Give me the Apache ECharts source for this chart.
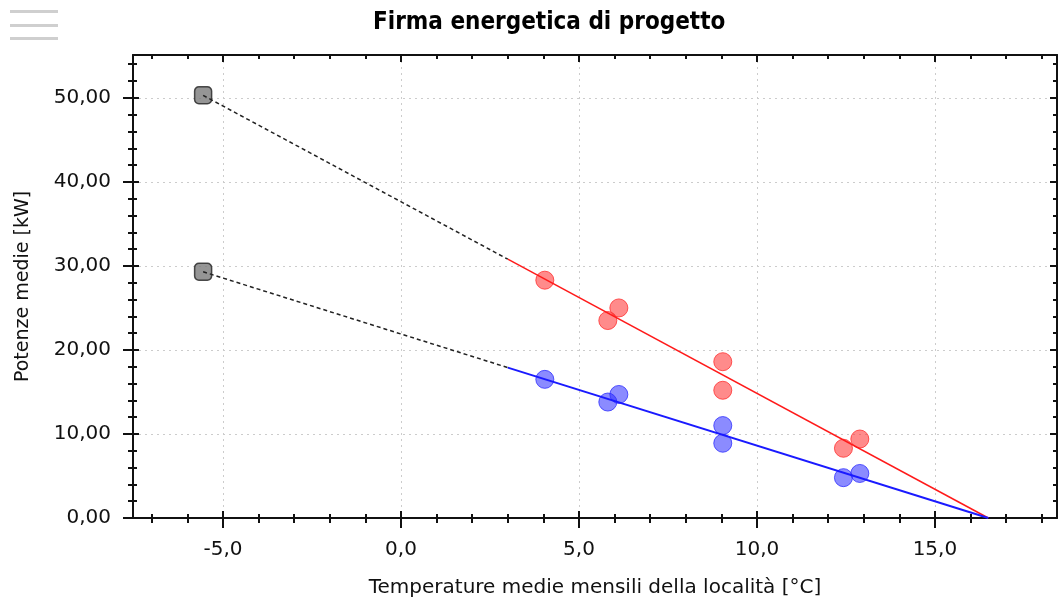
<!DOCTYPE html>
<html>
<head>
<meta charset="utf-8">
<script src="https://cdn.jsdelivr.net/npm/echarts@6/dist/echarts.min.js"></script>
<style>
  html, body { margin: 0; padding: 0; background: #fff; }
  #chart { width: 1059px; height: 603px; }
</style>
</head>
<body>
<div id="chart"></div>
<script>
  // valori
  var redPoints = [[4.04, 28.3], [5.81, 23.5], [6.12, 25.0], [9.04, 18.6], [9.04, 15.2], [12.43, 8.3], [12.89, 9.4]];
  var bluePoints = [[4.04, 16.5], [5.81, 13.8], [6.12, 14.7], [9.04, 11.0], [9.04, 8.9], [12.43, 4.8], [12.89, 5.3]];
  var designPoints = [[-5.56, 50.3], [-5.56, 29.3]];
  var redFitSolid = [[3.0, 30.8], [16.5, 0]];
  var redFitDashed = [[-5.56, 50.3], [3.0, 30.8]];
  var blueFitSolid = [[3.0, 17.9], [16.5, 0]];
  var blueFitDashed = [[-5.56, 29.3], [3.0, 17.9]];

  var xMajor = [-5, 0, 5, 10, 15];
  var xMinor = [-7, -6, -4, -3, -2, -1, 1, 2, 3, 4, 6, 7, 8, 9, 11, 12, 13, 14, 16, 17, 18];
  var yMajor = [0, 10, 20, 30, 40, 50];
  var yMinor = [2, 4, 6, 8, 12, 14, 16, 18, 22, 24, 26, 28, 32, 34, 36, 38, 42, 44, 46, 48, 52, 54];

  var xMin = -7.53, xMax = 18.43, yMin = 0, yMax = 55.1;

  var font = 'DejaVu Sans';
  var black = '#111';

  // asse "vuoto" usato solo per disegnare tacche
  function tickAxis(kind, pos, values, len, inside, showLine) {
      var a = {
          type: 'value',
          position: pos,
          min: kind === 'x' ? xMin : yMin,
          max: kind === 'x' ? xMax : yMax,
          axisLine: { show: !!showLine, onZero: false, lineStyle: { color: black, width: 2 } },
          axisTick: { show: true, inside: inside, length: len, customValues: values,
                      lineStyle: { color: black, width: 2 } },
          axisLabel: { show: false },
          splitLine: { show: false }
      };
      return a;
  }

  var myChart = echarts.init(document.getElementById('chart'));

  var mainX = tickAxis('x', 'bottom', xMajor, 10, false, true);
  mainX.axisLabel = {
      show: true, customValues: xMajor, margin: 22,
      fontFamily: font, fontSize: 20, color: black,
      formatter: function(v) { return v.toFixed(1).replace('.', ','); }
  };
  mainX.splitLine = { show: true, lineStyle: { color: '#cccccc', type: [2, 4], width: 1 } };
  mainX.name = 'Temperature medie mensili della località [°C]';
  mainX.nameLocation = 'middle';
  mainX.nameGap = 60;
  mainX.nameTextStyle = { fontFamily: font, fontSize: 20, color: black };

  var mainY = tickAxis('y', 'left', yMajor, 10, false, true);
  mainY.axisLabel = {
      show: true, customValues: yMajor, margin: 22,
      fontFamily: font, fontSize: 20, color: black,
      formatter: function(v) { return v.toFixed(2).replace('.', ','); }
  };
  mainY.splitLine = { show: true, lineStyle: { color: '#cccccc', type: [2, 4], width: 1 } };
  mainY.name = 'Potenze medie [kW]';
  mainY.nameLocation = 'middle';
  mainY.nameGap = 100;
  mainY.nameTextStyle = { fontFamily: font, fontSize: 19, color: black };

  var xAxes = [
      mainX,
      tickAxis('x', 'bottom', xMajor, 7, true),
      tickAxis('x', 'bottom', xMinor, 5, false),
      tickAxis('x', 'bottom', xMinor, 4, true),
      tickAxis('x', 'top', xMajor, 7, true, true),
      tickAxis('x', 'top', xMinor, 4, true)
  ];
  var yAxes = [
      mainY,
      tickAxis('y', 'left', yMajor, 6, true),
      tickAxis('y', 'left', yMinor, 5, false),
      tickAxis('y', 'left', yMinor, 4, true),
      tickAxis('y', 'right', yMajor, 7, true, true),
      tickAxis('y', 'right', yMinor, 4, true)
  ];

  var option = {
      backgroundColor: '#fff',
      animation: false,
      title: {
          text: 'Firma energetica di progetto',
          left: 368,
          top: 6,
          textStyle: { fontFamily: 'DejaVu Sans Condensed', fontWeight: 'bold', fontSize: 24, color: '#000' }
      },
      graphic: [
          { type: 'rect', left: 10, top: 10, shape: { width: 48, height: 3 }, style: { fill: '#cfcfcf' } },
          { type: 'rect', left: 10, top: 24, shape: { width: 48, height: 3 }, style: { fill: '#cfcfcf' } },
          { type: 'rect', left: 10, top: 37, shape: { width: 48, height: 3 }, style: { fill: '#cfcfcf' } }
      ],
      grid: { left: 133, right: 2, top: 55, bottom: 83, containLabel: false },
      xAxis: xAxes,
      yAxis: yAxes,
      series: [{
              name: 'retta riscaldamento tratteggiata',
              type: 'line',
              data: redFitDashed,
              symbol: 'none',
              lineStyle: { color: '#222', width: 1.5, type: [4, 3] }
          }, {
              name: 'retta acs tratteggiata',
              type: 'line',
              data: blueFitDashed,
              symbol: 'none',
              lineStyle: { color: '#222', width: 1.5, type: [4, 3] }
          }, {
              name: 'retta riscaldamento',
              type: 'line',
              data: redFitSolid,
              symbol: 'none',
              lineStyle: { color: '#ff1a1a', width: 1.5 }
          }, {
              name: 'retta totale',
              type: 'line',
              data: blueFitSolid,
              symbol: 'none',
              lineStyle: { color: '#1a1aff', width: 2 }
          }, {
              name: 'rossi',
              type: 'scatter',
              data: redPoints,
              symbolSize: 18,
              itemStyle: { color: 'rgba(255,40,40,0.68)', borderColor: '#ff3030', borderWidth: 1 }
          }, {
              name: 'blu',
              type: 'scatter',
              data: bluePoints,
              symbolSize: 18,
              itemStyle: { color: 'rgba(40,40,255,0.68)', borderColor: '#3030ff', borderWidth: 1 }
          }, {
              name: 'progetto',
              type: 'scatter',
              data: designPoints,
              symbol: 'roundRect',
              symbolSize: 17,
              itemStyle: { color: '#7a7a7a', borderColor: '#222', borderWidth: 1.5 }
          }
      ]
  };
  myChart.setOption(option);
</script>
</body>
</html>
